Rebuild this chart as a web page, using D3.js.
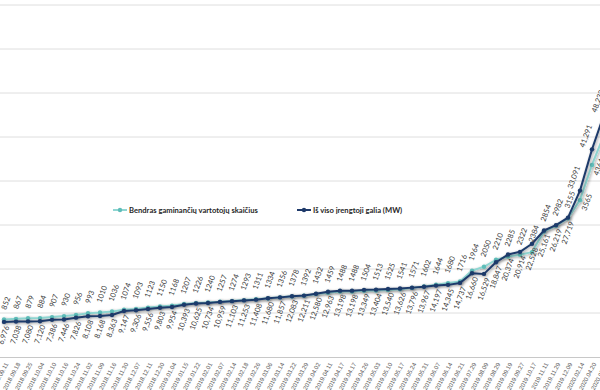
<!DOCTYPE html>
<html>
<head>
<meta charset="utf-8">
<script src="https://cdn.jsdelivr.net/npm/d3@7"></script>
<style>
  body { margin: 0; background: #fff; }
  svg { display: block; font-family: Lato, "Open Sans", sans-serif; }
</style>
</head>
<body>
<script>
// dates on the category axis (the chart is cropped at the right edge)
const dates = ["2018.09.11","2018.09.18","2018.09.25","2018.10.04","2018.10.10","2018.10.16","2018.10.24",
  "2018.11.02","2018.11.09","2018.11.16","2018.11.30","2018.12.07","2018.12.11","2018.12.30",
  "2019.01.04","2019.01.15","2019.01.22","2019.02.01","2019.02.07","2019.02.14","2019.02.18",
  "2019.02.26","2019.03.06","2019.03.14","2019.03.22","2019.03.29","2019.04.02","2019.04.11",
  "2019.04.17","2019.04.17","2019.04.26","2019.05.03","2019.05.10","2019.05.17","2019.05.24",
  "2019.05.31","2019.06.07","2019.06.14","2019.06.21","2019.07.29","2019.08.09","2019.08.29",
  "2019.09.19","2019.09.27","2019.10.17","2019.11.11","2019.11.29","2019.12.09","2020.02.14",
  "2020.04.20","2020.05.28"]

// Bendras gaminanciu vartotoju skaicius
const producers = [852,867,879,884,907,930,956,993,1010,1036,1074,1093,1123,1150,1168,
  1207,1226,1240,1257,1274,1293,1311,1334,1356,1378,1392,1432,1459,1488,1488,
  1504,1513,1525,1541,1571,1602,1644,1680,1716,1964,2050,2210,2285,2322,2384,
  2854,2982,3155,3565,4364,5050]

// Is viso irengtoji galia (MW)
const power = [6.976,7.038,7.080,7.120,7.386,7.446,7.826,8.108,8.168,8.363,9.147,9.306,9.556,
  9.803,9.954,10.393,10.625,10.734,10.959,11.103,11.253,11.408,11.680,11.857,12.083,12.211,
  12.580,12.963,13.198,13.198,13.349,13.404,13.540,13.626,13.796,13.967,14.197,14.345,14.737,
  16.660,16.529,18.847,20.374,20.914,22.528,25.161,26.219,27.719,33.091,41.291,48.232]

const seriesNames = ["Bendras gaminančių vartotojų skaičius", "Iš viso įrengtoji galia (MW)"]

const W = 600, H = 390
const tealLine = "#8fd6d2", tealDot = "#5fbdb9"
const navy = "#1f3a6a"

const svg = d3.select("body").append("svg").attr("width", W).attr("height", H)

const defs = svg.append("defs")
const f = defs.append("filter").attr("id","glow").attr("x","-10%").attr("y","-10%").attr("width","120%").attr("height","120%")
f.append("feGaussianBlur").attr("in","SourceAlpha").attr("stdDeviation",1.8).attr("result","b")
f.append("feOffset").attr("in","b").attr("dx",0.5).attr("dy",1).attr("result","o")
f.append("feComponentTransfer").attr("in","o").attr("result","s")
  .append("feFuncA").attr("type","linear").attr("slope",0.4)
const fm = f.append("feMerge")
fm.append("feMergeNode").attr("in","s")
fm.append("feMergeNode").attr("in","SourceGraphic")

const x = d3.scalePoint().domain(d3.range(dates.length)).range([4, 604])
const yCount = d3.scaleLinear().domain([0, 8000]).range([357, 5])
const yMW = d3.scaleLinear().domain([0, 70]).range([357, 5])

// gridlines
svg.append("g").selectAll("line").data(yCount.ticks(8).filter(d=>d>0)).join("line")
  .attr("x1",0).attr("x2",W)
  .attr("y1",d=>yCount(d)).attr("y2",d=>yCount(d))
  .attr("stroke","#dedede").attr("stroke-width",1)

// category axis
const xAxis = d3.axisBottom(x).tickSize(0).tickFormat(i=>dates[i])
const gx = svg.append("g").attr("transform","translate(0,357)").call(xAxis)
gx.select(".domain").attr("stroke","#c8c8c8").attr("d","M0,0.5H600")
gx.selectAll("text")
  .attr("font-size","6px").attr("fill","#595959")
  .attr("text-anchor","end")
  .attr("dy",0).attr("y",0)
  .attr("transform","translate(4,7) rotate(-62)")

// lines
function drawSeries(vals, y, stroke, dot, r){
  const line = d3.line().x((d,i)=>x(i)).y(d=>y(d))
  const g = svg.append("g").attr("filter","url(#glow)")
  g.append("path").datum(vals).attr("d",line)
    .attr("fill","none").attr("stroke",stroke).attr("stroke-width",2)
    .attr("stroke-linejoin","round")
  g.selectAll("circle").data(vals).join("circle")
    .attr("cx",(d,i)=>x(i)).attr("cy",d=>y(d)).attr("r",r).attr("fill",dot)
}
drawSeries(producers, yCount, tealLine, tealDot, 2.2)
drawSeries(power, yMW, navy, navy, 2.2)

// data labels
const rot = -70, s = Math.sin(-rot*Math.PI/180)
function labels(vals, y, fmt, place){
  const g = svg.append("g")
  g.selectAll("text").data(vals).join("text")
    .text(d=>fmt(d))
    .attr("font-size","7.5px").attr("fill","#404040")
    .attr("text-anchor","middle").attr("dy","0.32em")
    .each(function(d,i){
      const L = this.getComputedTextLength()
      const half = (L*s + 7*0.34)/2
      const p = place(i)
      let cx = x(i) + p.dx, cy
      if (p.side === "above") cy = y(d) - p.gap - half
      else if (p.side === "below") cy = y(d) + p.gap + half
      else cy = y(d) + p.gap
      d3.select(this).attr("transform",`translate(${cx},${cy}) rotate(${rot})`)
    })
}
labels(producers, yCount, d=>String(d), i=> i>=48 ? {side:"right", dx:7, gap:2} : {side:"above", dx:2, gap:9})
labels(power, yMW, d=>d3.format(".3f")(d).replace(".",","), i=> i>=48 ? {side:"above", dx:-6, gap:1} : {side:"below", dx:0, gap:3})

// legend
const leg = svg.append("g").attr("transform","translate(0,210)")
const items = [{x:113, c:tealLine, d:tealDot}, {x:297, c:navy, d:navy}]
items.forEach((it,k)=>{
  leg.append("line").attr("x1",it.x).attr("x2",it.x+14).attr("y1",0).attr("y2",0)
    .attr("stroke",it.c).attr("stroke-width",2)
  leg.append("circle").attr("cx",it.x+7).attr("cy",0).attr("r",2.2).attr("fill",it.d)
  leg.append("text").attr("x",it.x+16).attr("y",0).attr("dy","0.35em")
    .attr("font-size","7.6px").attr("font-weight",700).attr("fill","#262626")
    .text(seriesNames[k])
})
</script>
</body>
</html>
